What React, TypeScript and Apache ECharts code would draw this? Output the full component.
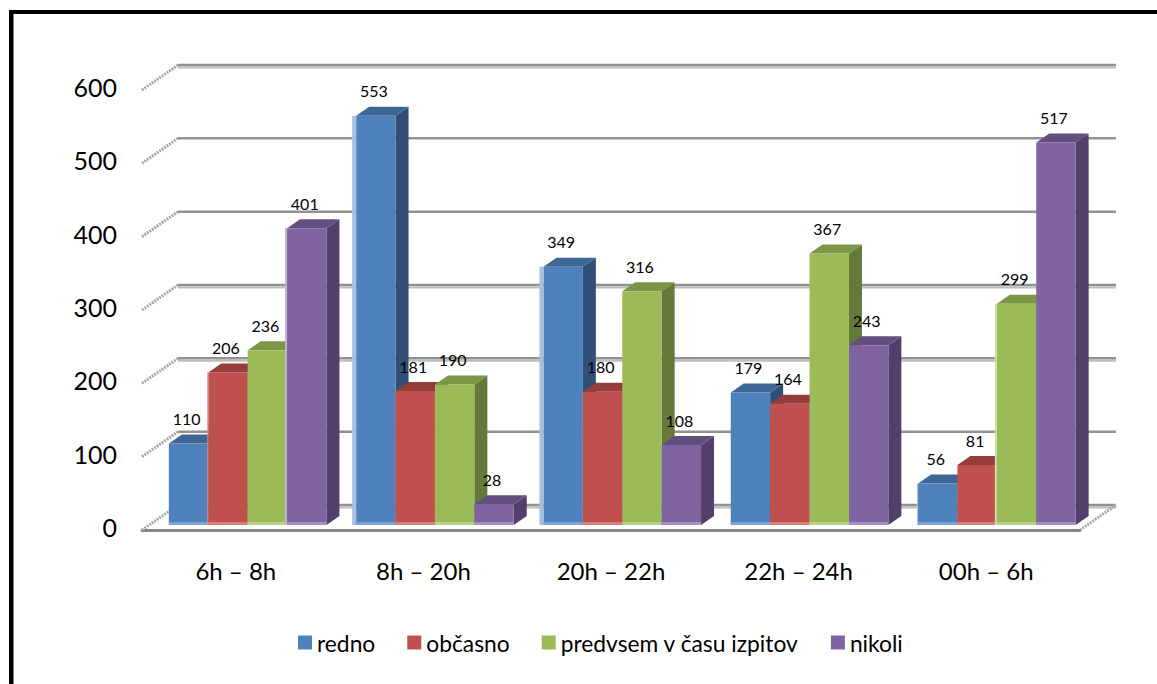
import React, { useEffect, useRef } from "react";
import * as echarts from "echarts";

const categories = ["6h – 8h", "8h – 20h", "20h – 22h", "22h – 24h", "00h – 6h"];
const redno = [110, 553, 349, 179, 56];
const obcasno = [206, 181, 180, 164, 81];
const predvsem = [236, 190, 316, 367, 299];
const nikoli = [401, 28, 108, 243, 517];
const yTicks = [0, 100, 200, 300, 400, 500, 600];
const dualToneTicks = [0, 200, 300, 600];

const seriesDefs = [
  { name: "redno", values: redno, front: "#4F81BD", top: "#3E6796", side: "#2F4F77", light: "#A7C0DE", base: "#7FA3D2" },
  { name: "občasno", values: obcasno, front: "#C0504D", top: "#953D3A", side: "#7B3230", light: "#D98F8C", base: "#D97F7C" },
  { name: "predvsem v času izpitov", values: predvsem, front: "#9BBB59", top: "#7B9647", side: "#64793A", light: "#CDDDAC", base: "#B9D289" },
  { name: "nikoli", values: nikoli, front: "#8064A2", top: "#644E80", side: "#533F6A", light: "#BFB1D0", base: "#A590C0" },
];

const FONT = "Lato";
const BAR_W = 39.4;
const DX = 13;
const DY = 9;
const WALL_DX = 36;
const WALL_DY = -25;

function edgeWidth(si: number, cat: number) {
  if (si === 0 && (cat === 1 || cat === 2)) return 4;
  if (si === 3 && cat === 0) return 2;
  if (si === 2 && cat === 4) return 2;
  if (si === 1 && cat === 0) return 1;
  if (si === 0 && cat === 4) return 1;
  return 0;
}

export default function App() {
  const ref = useRef<HTMLDivElement>(null);
  useEffect(() => {
    const chart = echarts.init(ref.current!, null, { renderer: "svg" });

    const wall = {
      type: "custom",
      silent: true,
      xAxisIndex: 0,
      yAxisIndex: 0,
      z: 1,
      clip: false,
      data: yTicks.map((t) => [0, t]),
      encode: { x: 0, y: 1 },
      renderItem: (params: any, api: any) => {
        const tick = api.value(1);
        const y = api.coord([0, tick])[1];
        const left = params.coordSys.x;
        const right = left + params.coordSys.width;
        const children: any[] = [
          {
            type: "line",
            shape: { x1: left, y1: y, x2: left + WALL_DX, y2: y + WALL_DY },
            style: { stroke: "#A8A8A8", lineWidth: 3, lineDash: [2, 1] },
          },
        ];
        if (dualToneTicks.includes(tick)) {
          children.push({
            type: "line",
            shape: { x1: left + WALL_DX, y1: y + WALL_DY + 2.5, x2: right + WALL_DX, y2: y + WALL_DY + 2.5 },
            style: { stroke: "#BEBEBE", lineWidth: 2 },
          });
        }
        children.push({
          type: "line",
          shape: { x1: left + WALL_DX, y1: y + WALL_DY, x2: right + WALL_DX, y2: y + WALL_DY },
          style: { stroke: "#929292", lineWidth: 2.5 },
        });
        if (tick === 0) {
          children.push({
            type: "line",
            shape: { x1: right, y1: y, x2: right + WALL_DX, y2: y + WALL_DY },
            style: { stroke: "#A8A8A8", lineWidth: 3, lineDash: [2, 1] },
          });
        }
        return { type: "group", children };
      },
    };

    const bars = seriesDefs.map((s, si) => ({
      type: "custom",
      name: s.name,
      xAxisIndex: 1,
      yAxisIndex: 1,
      z: 2,
      clip: false,
      itemStyle: { color: s.front },
      data: s.values.map((v, i) => [i, v]),
      encode: { x: 0, y: 1 },
      renderItem: (_params: any, api: any) => {
        const cat = api.value(0);
        const val = api.value(1);
        const top = api.coord([cat, val]);
        const bottom = api.coord([cat, 0]);
        const x0 = top[0] + (si - 2) * BAR_W;
        const x1 = x0 + BAR_W;
        const yT = top[1];
        const yB = bottom[1];
        const edge = edgeWidth(si, cat);
        const children: any[] = [
          {
            type: "polygon",
            shape: { points: [[x1, yT], [x1 + DX, yT - DY], [x1 + DX, yB - DY], [x1, yB]] },
            style: { fill: s.side },
          },
          {
            type: "polygon",
            shape: { points: [[x0, yT], [x0 + DX, yT - DY], [x1 + DX, yT - DY], [x1, yT]] },
            style: { fill: s.top },
          },
          {
            type: "rect",
            shape: { x: x0, y: yT, width: BAR_W, height: yB - yT },
            style: { fill: s.front },
          },
          {
            type: "rect",
            shape: { x: x0, y: yB - 3, width: BAR_W, height: 3 },
            style: { fill: s.base },
          },
        ];
        if (edge > 0) {
          children.push({
            type: "rect",
            shape: { x: x0 - edge, y: yT, width: edge, height: yB - yT },
            style: { fill: s.light },
          });
        }
        children.push({
          type: "text",
          z2: 100,
          x: x0 + BAR_W / 2 - 2,
          y: yT - 25,
          style: {
            text: String(val),
            fontFamily: FONT,
            fontSize: 16,
            fill: "#000",
            textAlign: "center",
            textVerticalAlign: "middle",
          },
        });
        return { type: "group", children };
      },
    }));

    chart.setOption({
      animation: false,
      backgroundColor: "#fff",
      textStyle: { fontFamily: FONT },
      grid: [
        { left: 142, width: 938, top: 90, height: 440, containLabel: false },
        { left: 154, width: 936.5, top: 81, height: 444, containLabel: false },
      ],
      xAxis: [
        {
          type: "category",
          gridIndex: 0,
          data: categories,
          axisLine: { show: true, onZero: false, lineStyle: { color: "#868686", width: 3 } },
          axisTick: { show: false },
          axisLabel: { fontFamily: FONT, fontSize: 24, color: "#000", margin: 28, interval: 0 },
        },
        { type: "category", gridIndex: 1, data: categories, show: false },
      ],
      yAxis: [
        {
          type: "value",
          gridIndex: 0,
          min: 0,
          max: 600,
          interval: 100,
          axisLine: { show: false },
          axisTick: { show: false },
          splitLine: { show: false },
          axisLabel: { fontFamily: FONT, fontSize: 25, color: "#000", margin: 25, verticalAlign: "bottom", lineHeight: 6 },
        },
        { type: "value", gridIndex: 1, min: 0, max: 600, interval: 100, show: false, splitLine: { show: false } },
      ],
      legend: {
        data: seriesDefs.map((s) => s.name),
        left: 298,
        top: 631,
        padding: 0,
        icon: "rect",
        itemWidth: 14,
        itemHeight: 14,
        itemGap: 32,
        textStyle: { fontFamily: FONT, fontSize: 22.8, color: "#000" },
      },
      graphic: [
        { type: "rect", shape: { x: 9, y: 10, width: 1148, height: 4 }, style: { fill: "#000" }, silent: true },
        { type: "rect", shape: { x: 9, y: 10, width: 4.5, height: 674 }, style: { fill: "#000" }, silent: true },
      ],
      series: [wall, ...bars],
    });
    return () => chart.dispose();
  }, []);
  return <div ref={ref} style={{ position: "fixed", left: 0, top: 0, width: 1157, height: 684 }} />;
}
